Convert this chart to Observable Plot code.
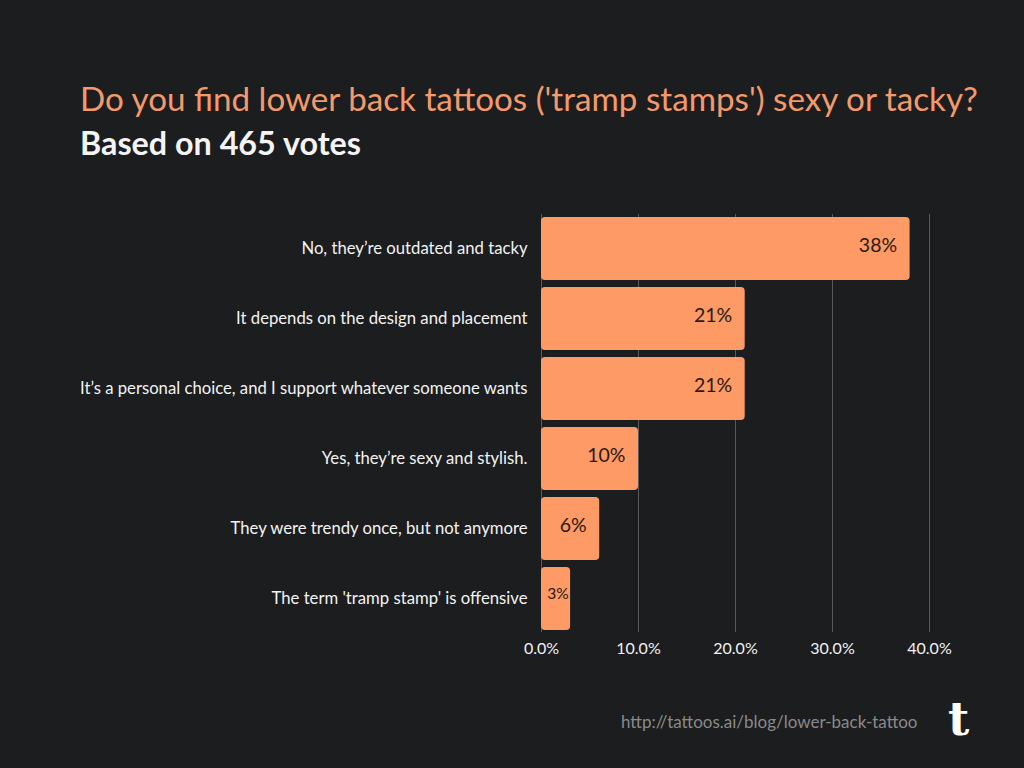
<!DOCTYPE html>
<html>
<head>
<meta charset="utf-8">
<script src="https://cdn.jsdelivr.net/npm/d3@7"></script>
<script src="https://cdn.jsdelivr.net/npm/@observablehq/plot@0.6"></script>
<style>
  html, body { margin: 0; padding: 0; background: #1c1d1f; width: 1024px; height: 768px; overflow: hidden; font-family: Lato, "Noto Sans", sans-serif; }
  #title { position: absolute; left: 80px; top: 78px; font-size: 33.2px; color: #f39a6c; white-space: nowrap; }
  #subtitle { position: absolute; left: 80px; top: 123px; font-size: 32.3px; font-weight: bold; color: #f4f4f4; white-space: nowrap; }
  #chart { position: absolute; left: 0; top: 180px; }
  #url { position: absolute; left: 621px; top: 711px; font-size: 17px; color: #8a8a8a; white-space: nowrap; }
  #logo { position: absolute; left: 948px; top: 692px; font-size: 46px; font-weight: bold; color: #ffffff; font-family: "DejaVu Serif", "Liberation Serif", serif; }
</style>
</head>
<body>
<div id="title">Do you find lower back tattoos ('tramp stamps') sexy or tacky?</div>
<div id="subtitle">Based on 465 votes</div>
<div id="chart"></div>
<div id="url">http://tattoos.ai/blog/lower-back-tattoo</div>
<div id="logo">t</div>
<script>
const answers = [
  "No, they\u2019re outdated and tacky",
  "It depends on the design and placement",
  "It\u2019s a personal choice, and I support whatever someone wants",
  "Yes, they\u2019re sexy and stylish.",
  "They were trendy once, but not anymore",
  "The term 'tramp stamp' is offensive"
];
const shares = [38, 21, 21, 10, 6, 3];
const xTicks = [0, 10, 20, 30, 40];

const data = answers.map((a, i) => ({answer: a, share: shares[i], label: shares[i] + "%"}));

const chart = Plot.plot({
  width: 1024,
  height: 500,
  marginTop: 34,
  marginBottom: 48,
  marginLeft: 541,
  marginRight: 95,
  style: { background: "transparent", color: "#f2f2f2", fontFamily: "Lato, 'Noto Sans', sans-serif", fontSize: "16px" },
  x: { domain: [0, 40], ticks: xTicks, tickFormat: d => d.toFixed(1) + "%", label: null },
  y: { domain: answers, paddingInner: 0.1, paddingOuter: 0, label: null },
  marks: [
    Plot.gridX(xTicks, { stroke: "#5a5a5a", strokeOpacity: 1 }),
    Plot.axisX({ ticks: xTicks, tickSize: 0, tickPadding: 10, tickFormat: d => d.toFixed(1) + "%", fill: "#f2f2f2", fontSize: 16, label: null }),
    Plot.axisY({ tickSize: 0, tickPadding: 14, fill: "#f2f2f2", fontSize: 16.7, label: null }),
    Plot.barX(data, { x: "share", y: "answer", fill: "#fe9a66", rx: 4 }),
    Plot.text(data.filter(d => d.share >= 5), { x: "share", y: "answer", text: "label", textAnchor: "end", dx: -13, dy: -3, fill: "#2a1810", fontSize: 19.5 }),
    Plot.text(data.filter(d => d.share < 5), { x: "share", y: "answer", text: "label", textAnchor: "end", dx: -2, dy: -5, fill: "#2a1810", fontSize: 15.5 })
  ]
});
document.getElementById("chart").appendChild(chart);
</script>
</body>
</html>
